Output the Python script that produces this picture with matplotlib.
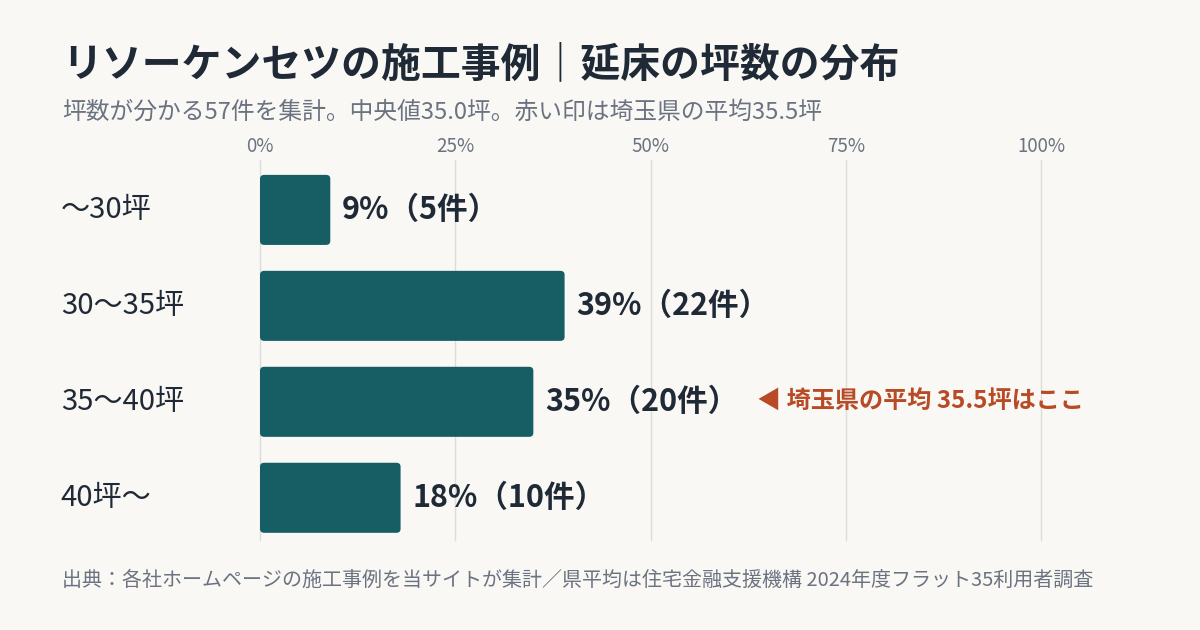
import matplotlib.pyplot as plt
from matplotlib.patches import FancyBboxPatch

plt.rcParams['font.family'] = ['Noto Sans CJK JP', 'DejaVu Sans']

categories = ['〜30坪', '30〜35坪', '35〜40坪', '40坪〜']
counts = [5, 22, 20, 10]
pct = [9, 39, 35, 18]
xticks = [0, 25, 50, 75, 100]
xticklabels = ['0%', '25%', '50%', '75%', '100%']

bg = '#f9f8f5'
bar_col = '#165e63'
dark = '#1f2a36'
gray = '#6b7280'
red = '#b84a25'

fig = plt.figure(figsize=(12, 6.3), dpi=100, facecolor=bg)
ax = fig.add_axes([260/1200, 1-540/630, 781/1200, 380/630])
ax.set_facecolor(bg)

y = range(len(categories))
bars = ax.barh(y, pct, height=0.73, color=bar_col)

# swap the plain bars for ones with slightly rounded corners
for b in bars:
    x0, y0 = b.get_x(), b.get_y()
    w, h = b.get_width(), b.get_height()
    b.set_visible(False)
    ax.add_patch(FancyBboxPatch((x0, y0), w, h,
                                boxstyle='round,pad=0,rounding_size=0.55',
                                mutation_aspect=0.075,
                                fc=bar_col, ec='none', zorder=2))

ax.set_xlim(0, 100)
ax.set_ylim(3.44, -0.52)

ax.set_xticks(xticks)
ax.set_xticklabels(xticklabels)
ax.xaxis.tick_top()
ax.tick_params(axis='x', length=0, pad=2, labelsize=13.5, labelcolor=gray)
ax.set_yticks([])
ax.grid(axis='x', color='#dcdcd8', lw=1, zorder=0)
for gl in ax.get_xgridlines():
    gl.set_clip_on(False)
ax.set_axisbelow(True)
for s in ax.spines.values():
    s.set_visible(False)

for i, (p, c) in enumerate(zip(pct, counts)):
    ax.text(p + 1.5, i, f'{p}%（{c}件）', va='center', ha='left',
            fontsize=22, fontweight='bold', color=dark, zorder=3)
    ax.text(-25.5, i, categories[i], va='center', ha='left',
            fontsize=21, color=dark, clip_on=False)

ax.text(63.6, 2, '◀ 埼玉県の平均 35.5坪はここ', va='center', ha='left',
        fontsize=17.4, fontweight='bold', color=red, clip_on=False)

fig.text(62/1200, 1-65/630, 'リソーケンセツの施工事例｜延床の坪数の分布',
         fontsize=28.7, fontweight='bold', color=dark, va='center', ha='left')
fig.text(62/1200, 1-112/630,
         '坪数が分かる57件を集計。中央値35.0坪。赤い印は埼玉県の平均35.5坪',
         fontsize=17.1, color=gray, va='center', ha='left')
fig.text(62/1200, 1-580/630,
         '出典：各社ホームページの施工事例を当サイトが集計／県平均は住宅金融支援機構 2024年度フラット35利用者調査',
         fontsize=14.4, color=gray, va='center', ha='left')

fig.savefig('out.png', dpi=100, facecolor=bg)
